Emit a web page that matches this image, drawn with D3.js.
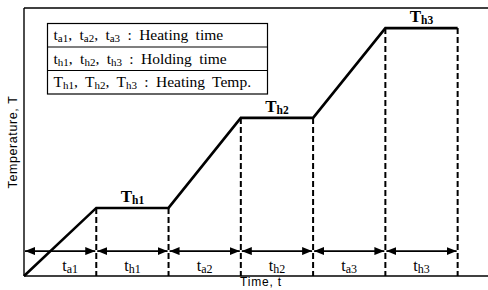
<!DOCTYPE html>
<html>
<head>
<meta charset="utf-8">
<script src="https://cdn.jsdelivr.net/npm/d3@7"></script>
<style>
  body { margin: 0; background: #fff; }
  svg { display: block; }
  .serif { font-family: "Liberation Serif", "DejaVu Serif", serif; fill: #000; }
  .sans { font-family: "Liberation Sans", Arial, sans-serif; fill: #000; }
</style>
</head>
<body>
<div id="chart"></div>
<script>
// stage names (heating a / holding h) and their durations
const phases = ['a1', 'h1', 'a2', 'h2', 'a3', 'h3'];
const phaseDurations = [1, 1, 1, 1, 1, 1];
// temperature profile corner points (relative units)
const profileTime = [0, 1, 2, 3, 4, 5, 6];
const profileTemp = [0, 25.4, 25.4, 59, 59, 92.5, 92.5];
const holdLabels = ['h1', 'h2', 'h3'];
const holdTemps = [25.4, 59, 92.5];
const legendRows = [
    { sym: 't', subs: ['a1', 'a2', 'a3'], text: 'Heating time' },
    { sym: 't', subs: ['h1', 'h2', 'h3'], text: 'Holding time' },
    { sym: 'T', subs: ['h1', 'h2', 'h3'], text: 'Heating Temp.' }
];

function drawChart(div) {
    let config = getConfiguration(div);
    let { xScaler, yScaler } = createScaler(config);
    drawFrame(config);
    drawProfile(config, xScaler, yScaler);
    drawPhaseArrows(config, xScaler, yScaler);
    drawLegend(config);
}

function getConfiguration(div) {
    let width = 488, height = 290;
    let margin = { left: 24, top: 8, right: 0, bottom: 14 };
    let svg = d3.select(div).append('svg')
        .attr('width', width)
        .attr('height', height);
    let defs = svg.append('defs');
    defs.append('marker')
        .attr('id', 'arrow')
        .attr('viewBox', '0 0 10 8')
        .attr('refX', 10).attr('refY', 4)
        .attr('markerWidth', 10).attr('markerHeight', 8)
        .attr('markerUnits', 'userSpaceOnUse')
        .attr('orient', 'auto-start-reverse')
        .append('path')
        .attr('d', 'M0,0 L10,4 L0,8 Z')
        .attr('fill', '#000');
    return { svg, width, height, margin };
}

function createScaler(config) {
    let { width, height, margin } = config;
    let xScaler = d3.scaleLinear()
        .domain([0, 6.42])
        .range([margin.left, width - margin.right]);
    let yScaler = d3.scaleLinear()
        .domain([0, 100])
        .range([height - margin.bottom, margin.top]);
    return { xScaler, yScaler };
}

function drawFrame(config) {
    let { svg, width, height, margin } = config;
    let x0 = margin.left, yb = height - margin.bottom;
    svg.append('line')
        .attrs({ x1: x0, y1: margin.top, x2: width, y2: margin.top });
    svg.append('line')
        .attrs({ x1: x0, y1: margin.top, x2: x0, y2: yb });
    svg.append('line')
        .attrs({ x1: x0, y1: yb, x2: width, y2: yb });
    svg.selectAll('line')
        .attr('stroke', '#000')
        .attr('stroke-width', 1.4);

    svg.append('text')
        .attr('class', 'sans')
        .attr('transform', `translate(17,${(margin.top + yb) / 2}) rotate(-90)`)
        .attr('text-anchor', 'middle')
        .attr('font-size', 12.5)
        .attr('letter-spacing', 0.6)
        .text('Temperature, T');

    svg.append('text')
        .attr('class', 'sans')
        .attr('x', 261).attr('y', 286)
        .attr('text-anchor', 'middle')
        .attr('font-size', 12)
        .attr('letter-spacing', 0.8)
        .text('Time, t');
}

function drawProfile(config, xScaler, yScaler) {
    let { svg } = config;
    let pts = profileTime.map((t, i) => [t, profileTemp[i]]);
    let line = d3.line()
        .x(d => xScaler(d[0]))
        .y(d => yScaler(d[1]));

    // dashed drop lines from every phase boundary
    let bounds = d3.cumsum(phaseDurations);
    svg.append('g').selectAll('line')
        .data(bounds)
        .enter()
        .append('line')
        .attrs({
            x1: d => xScaler(d),
            x2: d => xScaler(d),
            y1: d => yScaler(profileTemp[profileTime.indexOf(d)]),
            y2: yScaler(0)
        })
        .attr('stroke', '#000')
        .attr('stroke-width', 2)
        .attr('stroke-dasharray', '6,3');

    svg.append('path')
        .datum(pts)
        .attr('d', line)
        .attr('fill', 'none')
        .attr('stroke', '#000')
        .attr('stroke-width', 2.6)
        .attr('stroke-linejoin', 'miter');

    // plateau labels
    let labels = svg.append('g').selectAll('text')
        .data(holdLabels)
        .enter()
        .append('text')
        .attr('class', 'serif')
        .attr('text-anchor', 'middle')
        .attr('font-weight', 'bold')
        .attr('x', (d, i) => xScaler(2 * i + 1.5))
        .attr('y', (d, i) => yScaler(holdTemps[i]) - 6);
    labels.append('tspan').attr('font-size', 17).text('T');
    labels.append('tspan').attr('font-size', 11.5).attr('dy', 2).text(d => d);
}

function drawPhaseArrows(config, xScaler, yScaler) {
    let { svg } = config;
    let ends = d3.cumsum(phaseDurations);
    let starts = ends.map((e, i) => e - phaseDurations[i]);
    let yArrow = yScaler(9.3);

    svg.append('g').selectAll('line')
        .data(phases)
        .enter()
        .append('line')
        .attrs({
            x1: (d, i) => xScaler(starts[i]) + 1,
            x2: (d, i) => xScaler(ends[i]) - 1,
            y1: yArrow,
            y2: yArrow
        })
        .attr('stroke', '#000')
        .attr('stroke-width', 1.6)
        .attr('marker-start', 'url(#arrow)')
        .attr('marker-end', 'url(#arrow)');

    let labels = svg.append('g').selectAll('text')
        .data(phases)
        .enter()
        .append('text')
        .attr('class', 'serif')
        .attr('text-anchor', 'middle')
        .attr('x', (d, i) => xScaler((starts[i] + ends[i]) / 2) + (i === 0 ? 10 : 0))
        .attr('y', yScaler(0) - 5);
    labels.append('tspan').attr('font-size', 16).text('t');
    labels.append('tspan').attr('font-size', 12).attr('dy', 2).text(d => d);
}

function drawLegend(config) {
    let { svg } = config;
    let x = 47.5, y = 23.5, w = 220, rowH = 23.5;
    let g = svg.append('g');
    g.append('rect')
        .attrs({ x: x, y: y, width: w, height: rowH * legendRows.length })
        .attr('fill', '#fff')
        .attr('stroke', '#000')
        .attr('stroke-width', 1.2);
    legendRows.forEach((row, i) => {
        if (i > 0) {
            g.append('line')
                .attrs({ x1: x, x2: x + w, y1: y + rowH * i, y2: y + rowH * i })
                .attr('stroke', '#000')
                .attr('stroke-width', 1.2);
        }
        let t = g.append('text')
            .attr('class', 'serif')
            .attr('x', x + 6)
            .attr('y', y + rowH * i + 16.5)
            .attr('font-size', 15.5)
            .attr('word-spacing', 3.5);
        row.subs.forEach((s, j) => {
            t.append('tspan').attr('dy', j === 0 ? 0 : -2).text((j === 0 ? '' : ', ') + row.sym);
            t.append('tspan').attr('font-size', 11).attr('dy', 2).text(s);
        });
        t.append('tspan').attr('dy', -2).text(' : ' + row.text);
    });
}

// d3 attrs helper (d3-selection-multi style)
d3.selection.prototype.attrs = function(obj) {
    Object.keys(obj).forEach(k => this.attr(k, obj[k]));
    return this;
};

drawChart('#chart');
</script>
</body>
</html>
